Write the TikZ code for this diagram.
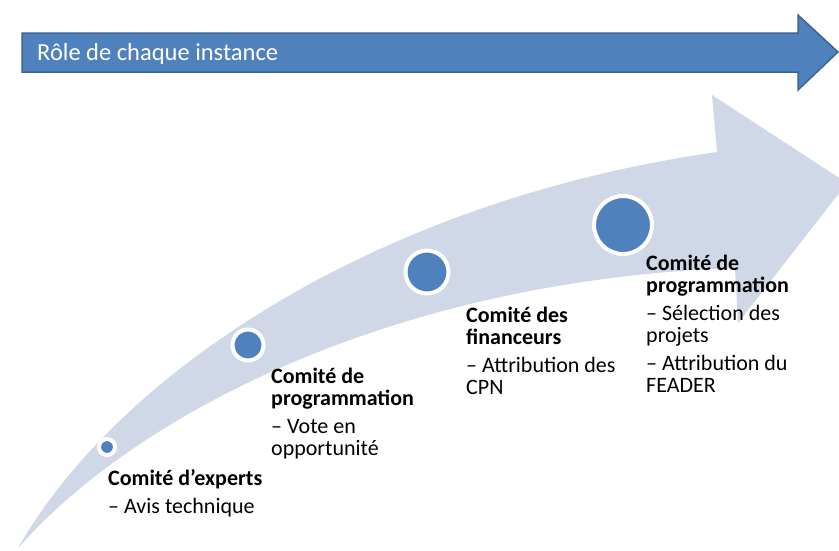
\documentclass[tikz,border=0pt]{standalone}
\usepackage{fontspec}
\setmainfont{Carlito}
\definecolor{band}{HTML}{D0D8E8}
\definecolor{bleu}{HTML}{4F81BD}
\definecolor{bord}{HTML}{3C6496}

\begin{document}
\begin{tikzpicture}[x=1pt,y=-1pt,
	dot/.style={circle,fill=bleu,draw=white,line width=4pt,inner sep=0pt},
	lbl/.style={anchor=base west,align=left,inner sep=0pt,font=\fontsize{22}{22}\selectfont}]
	\clip (0,0) rectangle (839,550);
	\fill[white] (0,0) rectangle (839,550);
	\fill[band] (18,548) .. controls (120,370) and (380,200) .. (717,152)
		-- (712,95) -- (847,183) -- (738,323) -- (735,268)
		.. controls (400,280) and (140,410) .. (18,548) -- cycle;
	\draw[fill=bleu,draw=bord,line width=1.5pt] (22,33) -- (798,33) -- (798,15) -- (838,52)
		-- (798,90) -- (798,72) -- (22,72) -- cycle;
	\node[anchor=base west,text=white,inner sep=0pt,font=\fontsize{24.5}{24.5}\selectfont] (titre) at (37,60) {Rôle de chaque instance};
	\node[dot,minimum size=16pt] (d1) at (107,447) {};
	\node[dot,minimum size=31pt] (d2) at (248,345) {};
	\node[dot,minimum size=43pt] (d3) at (427,272) {};
	\node[dot,minimum size=58pt] (d4) at (623,225) {};
	\node[lbl] (l1) at (108,513) {\textbf{Comité d’experts}\\[6pt]– Avis technique};
	\node[lbl] (l2) at (271,455) {\textbf{Comité de}\\\textbf{programmation}\\[6pt]– Vote en\\opportunité};
	\node[lbl] (l3) at (466,394) {\textbf{Comité des}\\\textbf{financeurs}\\[6pt]– Attribution des\\CPN};
	\node[lbl] (l4) at (646,392) {\textbf{Comité de}\\\textbf{programmation}\\[6pt]– Sélection des\\projets\\[6pt]– Attribution du\\FEADER};
\end{tikzpicture}
\end{document}
